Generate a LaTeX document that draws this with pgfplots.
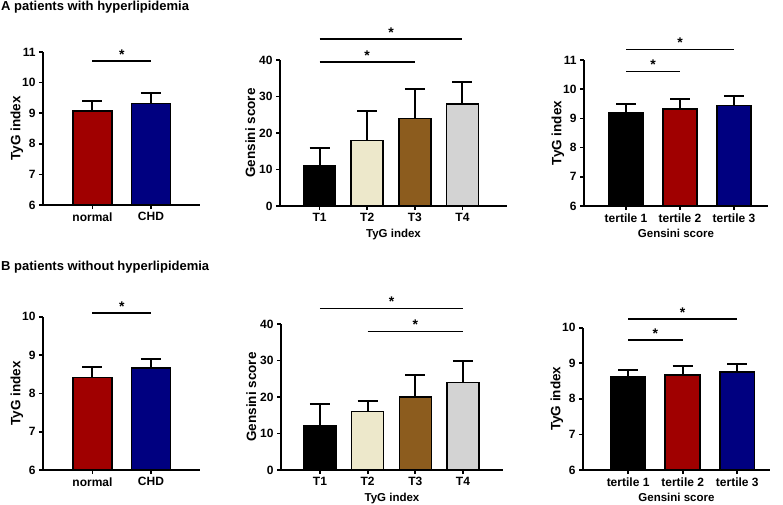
\documentclass[border=0pt]{standalone}
\usepackage{pgfplots}
\pgfplotsset{compat=1.18}
\usepackage{fontspec}
\setmainfont{Liberation Sans}
\definecolor{redbar}{RGB}{160,0,0}
\definecolor{bluebar}{RGB}{0,0,128}
\definecolor{beigebar}{RGB}{237,232,203}
\definecolor{brownbar}{RGB}{140,92,30}
\definecolor{greybar}{RGB}{211,211,211}
\pgfplotsset{
  panel/.style={
    scale only axis, clip=false,
    axis x line*=bottom, axis y line*=left,
    axis line style={line width=1.7pt,-},
    tick align=outside, major tick length=4pt,
    every tick/.style={black,line width=1.7pt},
    minor tick num=0,
    /pgf/number format/assume math mode=true,
    ticklabel style={font=\fontsize{12}{13}\selectfont\bfseries},
    ylabel style={font=\fontsize{13.5}{15}\selectfont\bfseries},
    xlabel style={font=\fontsize{11.5}{13}\selectfont\bfseries},
    ylabel shift=-8pt,
  },
  bar/.style={ybar, bar shift=0pt, draw=black, line width=1.5pt,
    error bars/y dir=plus, error bars/y explicit,
    error bars/error bar style={line width=2pt, black},
    error bars/error mark options={rotate=90, mark size=10pt, line width=2pt, black}},
}
\newcommand{\sig}[3]{%
  \draw[line width=1.6pt] (axis cs:#1,#3) -- (axis cs:#2,#3);
  \node[anchor=south, inner sep=0pt, yshift=1.5pt, font=\fontsize{14}{14}\selectfont\bfseries] at (axis cs:{(#1+#2)/2},#3) {*};}
\begin{document}
\begin{tikzpicture}
\path[use as bounding box] (0pt,0pt) rectangle (783pt,504pt);
\node[anchor=north west, inner sep=0pt, font=\fontsize{13}{15}\selectfont\bfseries] at (1pt,503pt) {A patients with hyperlipidemia};
\node[anchor=north west, inner sep=0pt, font=\fontsize{13}{15}\selectfont\bfseries] at (1pt,243pt) {B patients without hyperlipidemia};

% ---------- A1
\begin{axis}[panel, at={(43pt,299pt)}, anchor=south west, width=157pt, height=153pt,
  xmin=0.154, xmax=2.838, ymin=6, ymax=11, ytick={6,7,8,9,10,11},
  xtick={1,2}, xticklabels={normal,CHD}, ylabel={TyG index}, bar width=0.667]
\addplot[bar, fill=redbar] coordinates {(1,9.08) +- (0,0.33)};
\addplot[bar, fill=bluebar] coordinates {(2,9.32) +- (0,0.35)};
\sig{1}{2}{10.7}
\end{axis}

% ---------- A2
\begin{axis}[panel, at={(280pt,298pt)}, anchor=south west, width=227pt, height=146pt,
  xmin=0.171, xmax=4.934, ymin=0, ymax=40, ytick={0,10,20,30,40},
  xtick={1,2,3,4}, xticklabels={T1,T2,T3,T4}, ylabel={Gensini score}, xlabel={TyG index}, bar width=0.67, ylabel shift=-3pt]
\addplot[bar, fill=black] coordinates {(1,11) +- (0,5)};
\addplot[bar, fill=beigebar] coordinates {(2,18) +- (0,8)};
\addplot[bar, fill=brownbar] coordinates {(3,24) +- (0,8)};
\addplot[bar, fill=greybar] coordinates {(4,28) +- (0,6)};
\sig{1}{3}{39.4}
\sig{1}{4}{45.8}
\end{axis}

% ---------- A3
\begin{axis}[panel, at={(584pt,298pt)}, anchor=south west, width=184pt, height=146pt,
  xmin=0.222, xmax=3.63, ymin=6, ymax=11, ytick={6,7,8,9,10,11},
  xtick={1,2,3}, xticklabels={tertile 1,tertile 2,tertile 3}, ylabel={TyG index}, xlabel={Gensini score}, bar width=0.63]
\addplot[bar, fill=black] coordinates {(1,9.21) +- (0,0.3)};
\addplot[bar, fill=redbar] coordinates {(2,9.32) +- (0,0.34)};
\addplot[bar, fill=bluebar] coordinates {(3,9.44) +- (0,0.34)};
\sig{1}{2}{10.6}
\sig{1}{3}{11.36}
\end{axis}

% ---------- B1
\begin{axis}[panel, at={(43pt,34pt)}, anchor=south west, width=157pt, height=153.3pt,
  xmin=0.154, xmax=2.838, ymin=6, ymax=10, ytick={6,7,8,9,10},
  xtick={1,2}, xticklabels={normal,CHD}, ylabel={TyG index}, bar width=0.667]
\addplot[bar, fill=redbar] coordinates {(1,8.42) +- (0,0.28)};
\addplot[bar, fill=bluebar] coordinates {(2,8.66) +- (0,0.23)};
\sig{1}{2}{10.09}
\end{axis}

% ---------- B2
\begin{axis}[panel, at={(281pt,34pt)}, anchor=south west, width=222pt, height=146pt,
  xmin=0.182, xmax=4.84, ymin=0, ymax=40, ytick={0,10,20,30,40},
  xtick={1,2,3,4}, xticklabels={T1,T2,T3,T4}, ylabel={Gensini score}, xlabel={TyG index}, bar width=0.67, ylabel shift=-3pt]
\addplot[bar, fill=black] coordinates {(1,12) +- (0,6)};
\addplot[bar, fill=beigebar] coordinates {(2,16) +- (0,3)};
\addplot[bar, fill=brownbar] coordinates {(3,20) +- (0,6)};
\addplot[bar, fill=greybar] coordinates {(4,24) +- (0,6)};
\sig{2}{4}{37.9}
\sig{1}{4}{44.3}
\end{axis}

% ---------- B3
\begin{axis}[panel, at={(583pt,34pt)}, anchor=south west, width=187pt, height=142.3pt,
  xmin=0.174, xmax=3.6, ymin=6, ymax=10, ytick={6,7,8,9,10},
  xtick={1,2,3}, xticklabels={tertile 1,tertile 2,tertile 3}, ylabel={TyG index}, xlabel={Gensini score}, bar width=0.64]
\addplot[bar, fill=black] coordinates {(1,8.61) +- (0,0.2)};
\addplot[bar, fill=redbar] coordinates {(2,8.67) +- (0,0.25)};
\addplot[bar, fill=bluebar] coordinates {(3,8.76) +- (0,0.21)};
\sig{1}{2}{9.66}
\sig{1}{3}{10.25}
\end{axis}
\end{tikzpicture}
\end{document}
